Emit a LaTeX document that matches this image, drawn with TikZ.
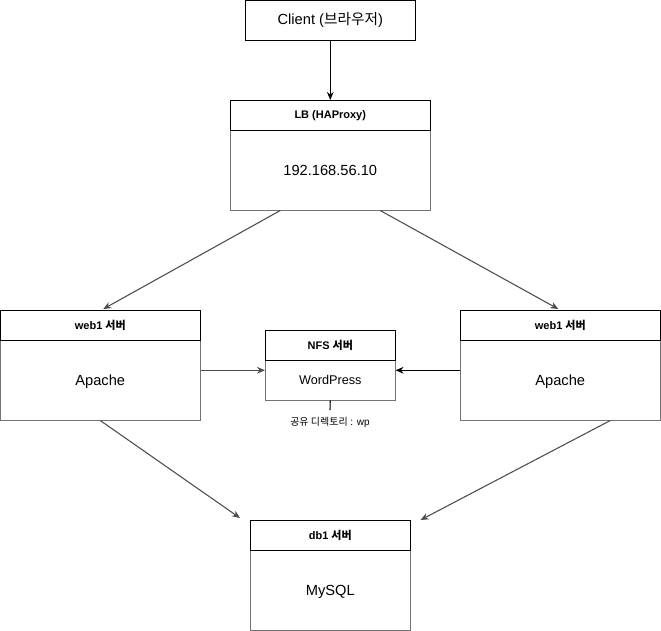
\documentclass[tikz,border=0pt]{standalone}
\usepackage{fontspec}
\setmainfont{Liberation Sans}
\newfontfamily\kr{Noto Sans CJK KR}
\usepackage{tikz}
\usetikzlibrary{arrows.meta,calc,positioning}

\begin{document}
\begin{tikzpicture}[x=0.75pt,y=-0.75pt,
  box/.style={draw=black,fill=white,inner sep=0pt,anchor=north west},
  head/.style={box,minimum height=22.5pt,font=\bfseries\fontsize{8.25}{10}\selectfont},
  body/.style={box,draw=black!55,text depth=0pt,font=\fontsize{11}{12}\selectfont},
  link/.style={draw=black!70,line width=0.8pt,-{Stealth[length=6pt,width=5pt]}}]
\useasboundingbox (0,0) rectangle (661,631);
% client
\node[box,minimum width=127.5pt,minimum height=30pt,font=\fontsize{11}{12}\selectfont] (client) at (245,0) {Client ({\kr 브라우저})};
% load balancer
\node[body,minimum width=150pt,minimum height=60pt] (lbbody) at (230,130) {192.168.56.10};
\node[head,minimum width=150pt] (lbhead) at (230,100) {LB (HAProxy)};
% web servers
\node[body,minimum width=150pt,minimum height=60pt] (webabody) at (0,340) {Apache};
\node[head,minimum width=150pt] (webahead) at (0,310) {web1 {\kr 서버}};
\node[body,minimum width=150pt,minimum height=60pt] (webbbody) at (460,340) {Apache};
\node[head,minimum width=150pt] (webbhead) at (460,310) {web1 {\kr 서버}};
% nfs
\node[body,minimum width=97.5pt,minimum height=30pt,font=\fontsize{9.5}{11}\selectfont] (nfsbody) at (265,360) {WordPress};
\node[head,minimum width=97.5pt] (nfshead) at (265,330) {NFS {\kr 서버}};
\coordinate (nfsend) at (330,410);
\node[font=\fontsize{7.5}{9}\selectfont,below=2pt of nfsend] (share) {{\kr 공유 디렉토리} : wp};
% db
\node[body,minimum width=120pt,minimum height=60pt] (dbbody) at (250,550) {MySQL};
\node[head,minimum width=120pt] (dbhead) at (250,520) {db1 {\kr 서버}};

\draw[line width=0.8pt,-{Stealth[length=6pt,width=5pt]}] (client) -- (lbhead);
\draw[link] ($(lbbody.south)+(-50,0)$) -- ($(webahead.north)+(3,-1)$);
\draw[link] ($(lbbody.south)+(50,0)$) -- ($(webbhead.north)+(-2,-1)$);
\draw[link] ($(webabody.east)+(0,-10)$) -- ($(nfsbody.west)+(0,-10)$);
\draw[link,draw=black] ($(webbbody.west)+(0,-10)$) -- ($(nfsbody.east)+(0,-10)$);
\draw[draw=black,line width=0.8pt] (nfsbody.south) -- (nfsend);
\draw[link] (webabody.south) -- ($(dbhead.north west)+(-10,-2)$);
\draw[link] ($(webbbody.south)+(50,0)$) -- ($(dbhead.north east)+(10,0)$);
\end{tikzpicture}
\end{document}
